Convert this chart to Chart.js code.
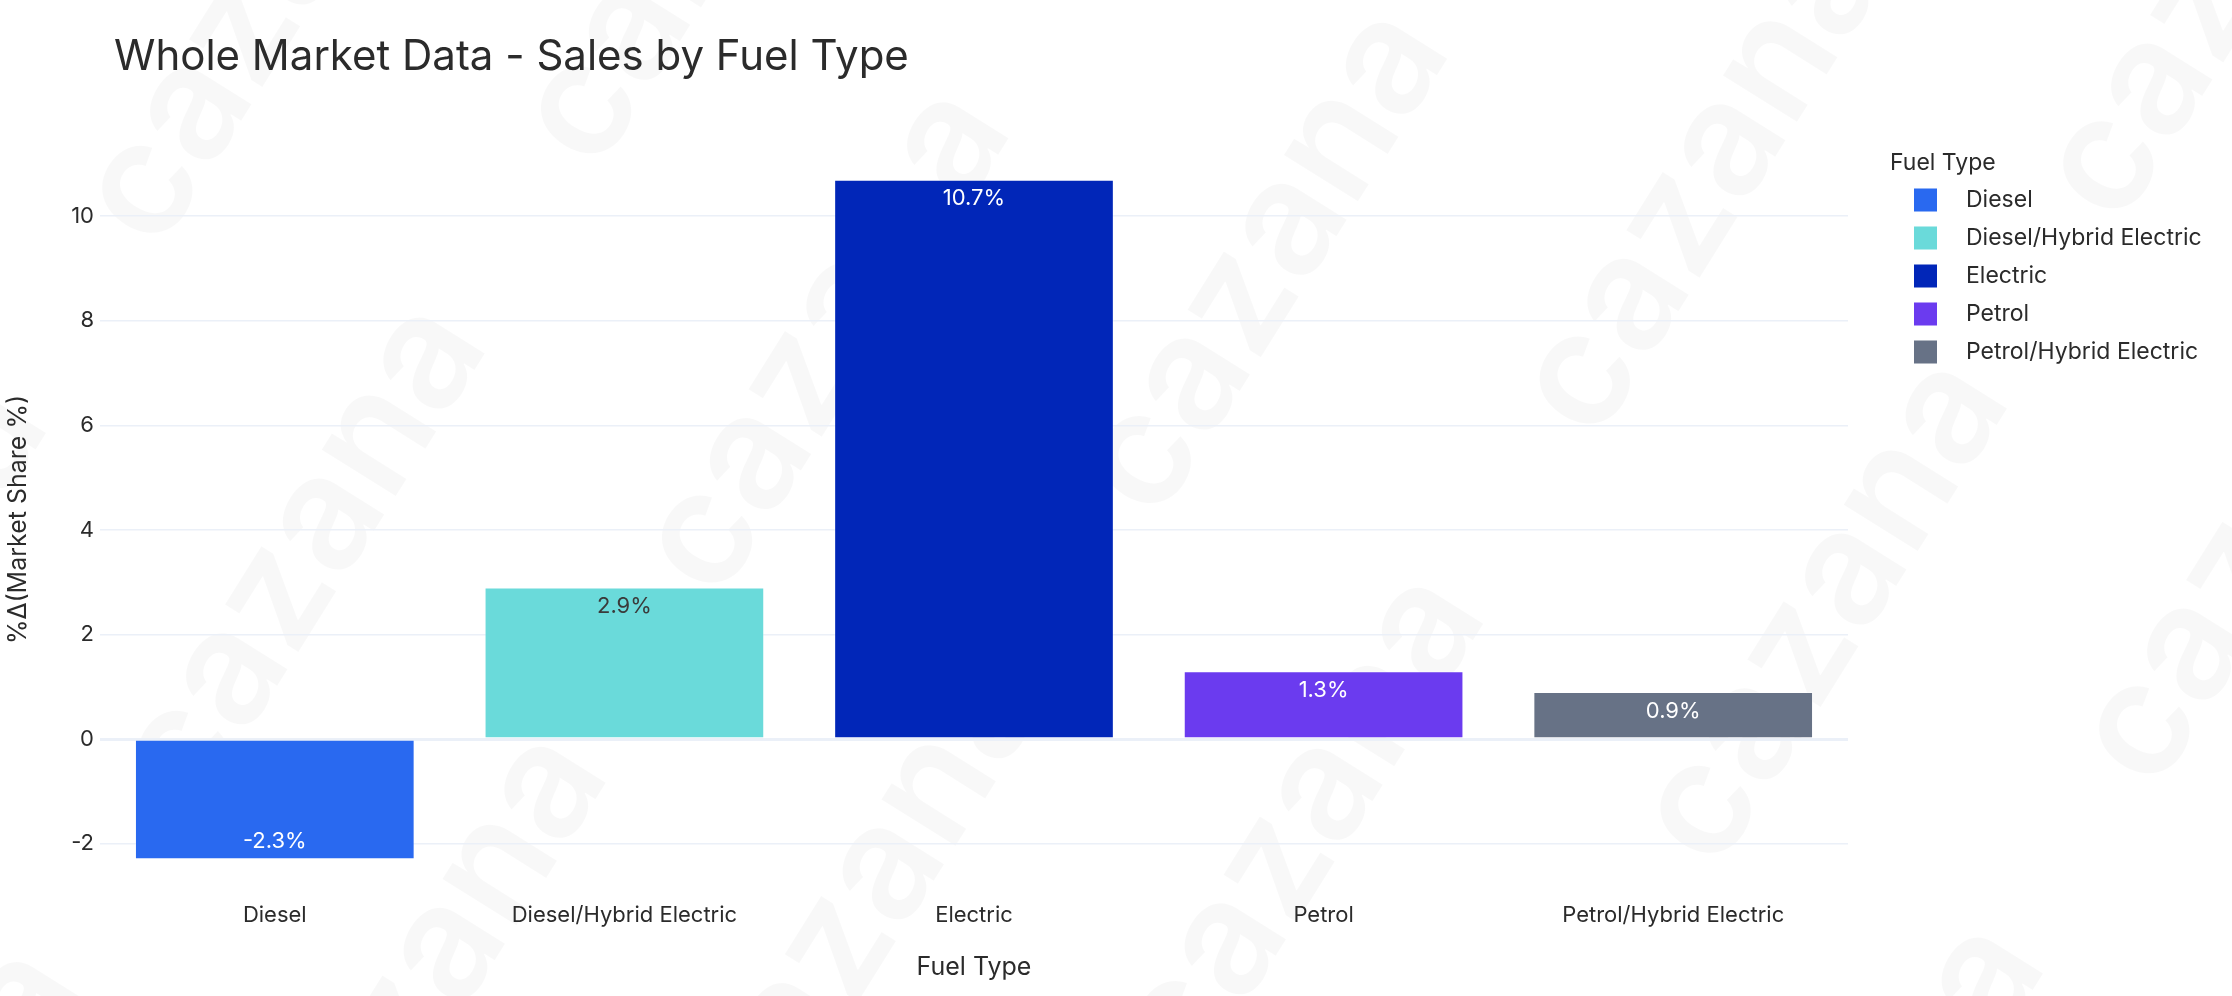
<!DOCTYPE html>
<html>
<head>
<meta charset="utf-8">
<script src="https://cdn.jsdelivr.net/npm/chart.js@4.4.1/dist/chart.umd.min.js"></script>
<style>
  html, body { margin: 0; padding: 0; background: #fff; }
  canvas { display: block; }
</style>
</head>
<body>
<canvas id="fuelChart" width="2232" height="996"></canvas>
<script>
// data
var categories = ['Diesel', 'Diesel/Hybrid Electric', 'Electric', 'Petrol', 'Petrol/Hybrid Electric'];
var shareChange = [-2.3, 2.9, 10.7, 1.3, 0.9];
var yTicks = [-2, 0, 2, 4, 6, 8, 10];

var barColors = ['#2969F0', '#6ADADA', '#0126B8', '#6B3BEF', '#677286'];
var FONT = 'Inter, "Noto Sans", sans-serif';
var TEXT = '#2b2b2b';

// dark text on light bars, white on dark ones
function labelColor(hex) {
    var r = parseInt(hex.substr(1, 2), 16), g = parseInt(hex.substr(3, 2), 16), b = parseInt(hex.substr(5, 2), 16);
    var lum = 0.299 * r + 0.587 * g + 0.114 * b;
    return lum > 160 ? '#3a3a3a' : '#ffffff';
}

var watermark = {
    id: 'watermark',
    beforeDraw: function(chart) {
        var ctx = chart.ctx;
        ctx.save();
        ctx.fillStyle = 'rgba(0,0,0,0.028)';
        ctx.font = '600 160px ' + FONT;
        ctx.textBaseline = 'middle';
        ctx.translate(chart.width / 2, chart.height / 2);
        ctx.rotate(-58 * Math.PI / 180);
        for (var row = -6; row <= 6; row++) {
            for (var col = -4; col <= 4; col++) {
                ctx.fillText('cazana', col * 760 + (row % 2) * 300, row * 330);
            }
        }
        ctx.restore();
    }
};

var extras = {
    id: 'extras',
    afterDatasetsDraw: function(chart) {
        var ctx = chart.ctx;
        var meta = chart.getDatasetMeta(0);
        ctx.save();
        ctx.font = '22px ' + FONT;
        ctx.textAlign = 'center';
        ctx.textBaseline = 'middle';
        meta.data.forEach(function(bar, i) {
            var v = shareChange[i];
            var y = v >= 0 ? bar.y + 19 : bar.y - 18;
            ctx.fillStyle = labelColor(barColors[i]);
            ctx.fillText(v.toFixed(1) + '%', bar.x, y);
        });
        ctx.restore();
    },
    afterDraw: function(chart) {
        var ctx = chart.ctx;
        ctx.save();
        // title
        ctx.fillStyle = TEXT;
        ctx.font = '42px ' + FONT;
        ctx.textAlign = 'left';
        ctx.textBaseline = 'alphabetic';
        ctx.fillText('Whole Market Data - Sales by Fuel Type', 114, 70);
        // legend
        ctx.textBaseline = 'middle';
        ctx.font = '23px ' + FONT;
        ctx.fillText('Fuel Type', 1890, 163);
        categories.forEach(function(name, i) {
            var cy = 200 + i * 38;
            ctx.fillStyle = barColors[i];
            ctx.fillRect(1914, cy - 11.5, 23, 23);
            ctx.fillStyle = TEXT;
            ctx.fillText(name, 1966, cy);
        });
        ctx.restore();
    }
};

var ctx = document.getElementById('fuelChart').getContext('2d');
var chart = new Chart(ctx, {
    type: 'bar',
    data: {
        labels: categories,
        datasets: [{
            label: 'Fuel Type',
            data: shareChange,
            backgroundColor: barColors,
            borderColor: 'rgba(255,255,255,0.3)',
            borderWidth: 1,
            categoryPercentage: 1.0,
            barPercentage: 0.8
        }]
    },
    options: {
        responsive: false,
        devicePixelRatio: 1,
        animation: false,
        layout: { padding: { top: 142, right: 384, bottom: 0, left: 0 } },
        plugins: {
            legend: { display: false },
            title: { display: false },
            tooltip: { enabled: false }
        },
        scales: {
            x: {
                grid: { display: false, drawTicks: false },
                border: { display: false },
                ticks: { color: TEXT, font: { family: FONT, size: 22 }, padding: 5 },
                title: {
                    display: true, text: 'Fuel Type', color: TEXT,
                    font: { family: FONT, size: 25 }, padding: { bottom: 14 }
                },
                afterFit: function(scale) { scale.height = 99; }
            },
            y: {
                min: -3.02,
                max: 11.42,
                grid: {
                    drawTicks: false,
                    color: '#EBF0F8',
                    lineWidth: function(c) { return c.tick && c.tick.value === 0 ? 3 : 1.5; }
                },
                border: { display: false },
                ticks: { color: TEXT, font: { family: FONT, size: 22 }, padding: 6 },
                afterBuildTicks: function(scale) {
                    scale.ticks = yTicks.map(function(v) { return { value: v }; });
                },
                title: {
                    display: true, text: '%Δ(Market Share %)', color: TEXT,
                    font: { family: FONT, size: 25 }, padding: { top: 3 }
                },
                afterFit: function(scale) { scale.width = 100; }
            }
        }
    },
    plugins: [watermark, extras]
});
</script>
</body>
</html>
